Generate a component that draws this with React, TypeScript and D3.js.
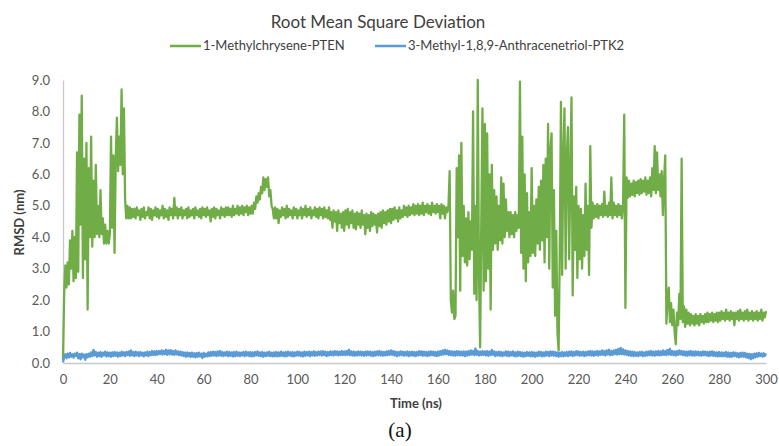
import React, { useEffect, useRef } from "react";
import * as d3 from "d3";

const W = 779;
const H = 446;
const margin = { top: 80, right: 13, bottom: 83, left: 63 };

const timeStep = 0.5; // ns between samples
const xTicks = [0, 20, 40, 60, 80, 100, 120, 140, 160, 180, 200, 220, 240, 260, 280, 300];
const yTicks = [0, 1, 2, 3, 4, 5, 6, 7, 8, 9];

const seriesNames = ["1-Methylchrysene-PTEN", "3-Methyl-1,8,9-Anthracenetriol-PTK2"];
const seriesColors = ["#70AD47", "#5B9BD5"];

// RMSD (nm), 1-Methylchrysene-PTEN, one sample per 0.5 ns (0..300), one row per 10 ns
const pten = [
  0.1,
  2.2, 3.1, 2.4, 3.2, 2.5, 3.9, 3.0, 4.2, 2.6, 4.0, 2.7, 6.7, 2.9, 7.9, 4.4, 8.5, 2.7, 6.5, 3.3, 7.0,
  1.7, 6.2, 4.0, 7.2, 3.7, 5.8, 4.0, 6.3, 4.1, 5.0, 4.0, 5.5, 4.1, 4.6, 3.8, 4.4, 3.8, 4.2, 3.8, 4.1,
  7.2, 4.3, 6.6, 3.5, 6.5, 7.8, 6.1, 7.2, 6.3, 8.7, 6.0, 8.1, 5.2, 4.6, 5.0, 4.6, 4.95, 4.6, 4.9, 4.65,
  4.9, 4.6, 4.95, 4.7, 4.85, 4.55, 4.9, 4.65, 4.95, 4.6, 4.8, 4.7, 4.95, 4.6, 4.9, 4.55, 4.85, 4.7, 4.95, 4.65,
  4.9, 4.6, 4.85, 4.7, 5.0, 4.6, 4.9, 4.65, 4.85, 4.55, 4.95, 4.7, 4.9, 4.6, 5.25, 4.7, 4.95, 4.6, 4.9, 4.7,
  4.95, 4.6, 4.85, 4.7, 4.9, 4.6, 4.95, 4.65, 4.85, 4.7, 4.9, 4.6, 4.95, 4.7, 4.85, 4.65, 4.9, 4.6, 4.95, 4.7,
  4.9, 4.65, 4.95, 4.7, 4.85, 4.5, 4.9, 4.65, 4.95, 4.6, 4.9, 4.7, 4.85, 4.6, 4.95, 4.7, 4.9, 4.65, 4.95, 4.7,
  4.95, 4.7, 4.9, 4.65, 5.0, 4.7, 4.9, 4.75, 5.0, 4.7, 4.95, 4.75, 5.0, 4.7, 4.95, 4.8, 5.0, 4.7, 4.95, 4.75,
  5.0, 4.75, 5.1, 4.9, 5.3, 5.1, 5.4, 5.2, 5.6, 5.4, 5.9, 5.5, 5.85, 5.6, 5.9, 5.3, 5.5, 5.0, 4.9, 4.6,
  4.95, 4.6, 4.9, 4.45, 4.85, 4.65, 4.95, 4.7, 4.9, 4.6, 5.0, 4.65, 4.9, 4.7, 4.85, 4.6, 4.95, 4.7, 4.9, 4.6,
  4.85, 4.7, 4.95, 4.6, 4.9, 4.7, 5.0, 4.65, 4.9, 4.7, 4.95, 4.6, 4.85, 4.7, 4.95, 4.65, 4.9, 4.6, 4.95, 4.7,
  4.9, 4.6, 4.95, 4.65, 4.85, 4.6, 4.95, 4.55, 4.8, 4.3, 4.85, 4.5, 4.8, 4.2, 4.85, 4.45, 4.75, 4.3, 4.8, 4.2,
  4.85, 4.4, 4.9, 4.3, 4.8, 4.45, 4.85, 4.3, 4.75, 4.25, 4.8, 4.4, 4.75, 4.3, 4.85, 4.4, 4.7, 4.1, 4.75, 4.3,
  4.7, 4.2, 4.8, 4.35, 4.75, 4.4, 4.7, 4.15, 4.75, 4.35, 4.8, 4.3, 4.85, 4.45, 4.8, 4.4, 4.85, 4.5, 4.9, 4.45,
  4.9, 4.55, 4.95, 4.6, 4.85, 4.5, 4.95, 4.6, 4.85, 4.65, 5.0, 4.7, 4.95, 4.65, 5.0, 4.7, 4.95, 4.75, 5.05, 4.7,
  5.0, 4.75, 5.05, 4.7, 5.0, 4.75, 5.1, 4.7, 5.0, 4.8, 5.05, 4.75, 5.0, 4.7, 5.1, 4.8, 5.0, 4.75, 5.05, 4.8,
  5.0, 4.6, 5.05, 4.75, 5.0, 4.6, 4.95, 4.8, 5.0, 6.1, 2.0, 1.6, 2.3, 1.4, 1.5, 6.2, 4.0, 6.6, 2.3, 7.0,
  3.4, 5.0, 3.2, 4.6, 3.1, 4.8, 3.3, 4.5, 3.6, 8.0, 2.2, 5.0, 2.0, 9.0, 3.0, 0.5, 4.5, 8.1, 2.3, 7.6,
  2.6, 7.3, 3.0, 6.0, 1.7, 6.3, 3.6, 5.5, 3.8, 5.3, 3.6, 5.0, 3.9, 5.9, 3.8, 5.7, 4.0, 5.2, 4.2, 4.8,
  4.0, 4.8, 4.1, 4.7, 4.0, 4.8, 4.2, 4.7, 4.3, 8.95, 3.5, 7.2, 3.0, 6.0, 2.6, 5.4, 3.2, 4.8, 3.4, 6.2,
  3.5, 5.0, 3.4, 5.2, 3.8, 5.6, 3.6, 5.8, 3.9, 6.3, 3.2, 6.5, 4.0, 7.6, 3.0, 6.8, 7.3, 2.4, 5.5, 1.5,
  4.2, 1.0, 0.4, 3.6, 8.3, 2.8, 6.5, 8.1, 3.0, 6.6, 7.5, 3.3, 6.0, 8.45, 2.15, 5.3, 3.6, 5.6, 2.7, 5.0,
  3.3, 4.9, 3.0, 4.7, 3.4, 5.7, 3.6, 5.0, 2.8, 6.9, 4.3, 5.1, 4.6, 5.0, 4.65, 5.05, 4.6, 5.0, 4.7, 5.05,
  4.65, 5.45, 4.7, 5.0, 4.65, 5.1, 4.7, 5.9, 4.6, 5.1, 4.7, 5.0, 4.65, 5.05, 4.7, 5.0, 4.6, 5.0, 7.9, 1.75,
  5.9, 5.25, 5.8, 5.3, 5.7, 5.35, 5.8, 5.3, 5.75, 5.4, 5.8, 5.35, 5.85, 5.4, 5.8, 5.45, 5.9, 5.35, 5.8, 5.4,
  5.9, 5.3, 6.2, 5.5, 6.9, 5.4, 6.7, 5.5, 6.0, 5.3, 6.1, 4.7, 5.8, 6.6, 1.25, 2.0, 2.4, 1.3, 1.9, 1.2,
  1.7, 1.0, 0.6, 1.6, 1.2, 2.2, 1.4, 6.5, 1.3, 1.8, 1.15, 1.7, 1.25, 1.6, 1.2, 1.55, 1.25, 1.5, 1.2, 1.55,
  1.25, 1.5, 1.2, 1.55, 1.3, 1.5, 1.25, 1.55, 1.3, 1.6, 1.3, 1.55, 1.35, 1.6, 1.3, 1.55, 1.35, 1.6, 1.3, 1.6,
  1.35, 1.65, 1.4, 1.6, 1.35, 1.7, 1.4, 1.6, 1.35, 1.65, 1.4, 1.6, 1.2, 1.6, 1.4, 1.65, 1.35, 1.7, 1.4, 1.6,
  1.35, 1.65, 1.4, 1.7, 1.35, 1.6, 1.4, 1.65, 1.35, 1.6, 1.4, 1.65, 1.35, 1.6, 1.4, 1.7, 1.35, 1.6, 1.45, 1.65,
];

// RMSD (nm), 3-Methyl-1,8,9-Anthracenetriol-PTK2, one sample per 0.5 ns (0..300), one row per 10 ns
const ptk2 = [
  0.02,
  0.2, 0.28, 0.15, 0.3, 0.18, 0.32, 0.2, 0.28, 0.17, 0.3, 0.22, 0.33, 0.15, 0.28, 0.12, 0.3, 0.18, 0.27, 0.1, 0.28,
  0.18, 0.3, 0.2, 0.34, 0.22, 0.42, 0.24, 0.35, 0.2, 0.33, 0.22, 0.35, 0.2, 0.33, 0.24, 0.36, 0.21, 0.34, 0.22, 0.33,
  0.2, 0.34, 0.22, 0.35, 0.23, 0.34, 0.2, 0.33, 0.22, 0.36, 0.24, 0.34, 0.22, 0.35, 0.25, 0.37, 0.23, 0.4, 0.24, 0.35,
  0.22, 0.36, 0.24, 0.34, 0.22, 0.35, 0.24, 0.33, 0.21, 0.34, 0.24, 0.36, 0.22, 0.35, 0.25, 0.38, 0.26, 0.37, 0.25, 0.38,
  0.27, 0.38, 0.28, 0.4, 0.27, 0.39, 0.28, 0.42, 0.26, 0.4, 0.28, 0.41, 0.27, 0.38, 0.26, 0.4, 0.27, 0.37, 0.25, 0.36,
  0.24, 0.35, 0.22, 0.33, 0.2, 0.34, 0.21, 0.32, 0.19, 0.33, 0.2, 0.31, 0.18, 0.32, 0.2, 0.33, 0.21, 0.3, 0.16, 0.32,
  0.2, 0.3, 0.21, 0.34, 0.22, 0.35, 0.23, 0.36, 0.24, 0.35, 0.22, 0.37, 0.24, 0.38, 0.23, 0.35, 0.22, 0.34, 0.24, 0.36,
  0.22, 0.35, 0.23, 0.34, 0.21, 0.35, 0.22, 0.36, 0.23, 0.34, 0.22, 0.33, 0.24, 0.35, 0.22, 0.36, 0.24, 0.34, 0.22, 0.35,
  0.21, 0.34, 0.22, 0.35, 0.24, 0.37, 0.23, 0.34, 0.22, 0.35, 0.2, 0.33, 0.22, 0.34, 0.23, 0.36, 0.22, 0.33, 0.21, 0.34,
  0.22, 0.35, 0.21, 0.34, 0.22, 0.36, 0.23, 0.34, 0.21, 0.35, 0.22, 0.36, 0.24, 0.34, 0.22, 0.35, 0.21, 0.34, 0.23, 0.36,
  0.24, 0.35, 0.22, 0.34, 0.21, 0.36, 0.23, 0.35, 0.24, 0.36, 0.22, 0.35, 0.24, 0.37, 0.23, 0.35, 0.24, 0.36, 0.25, 0.37,
  0.24, 0.38, 0.25, 0.36, 0.22, 0.35, 0.24, 0.37, 0.25, 0.36, 0.24, 0.38, 0.26, 0.37, 0.24, 0.36, 0.25, 0.38, 0.26, 0.37,
  0.25, 0.38, 0.26, 0.42, 0.25, 0.37, 0.24, 0.36, 0.23, 0.35, 0.24, 0.37, 0.25, 0.36, 0.24, 0.35, 0.23, 0.36, 0.24, 0.37,
  0.25, 0.36, 0.23, 0.35, 0.22, 0.36, 0.24, 0.37, 0.25, 0.38, 0.24, 0.36, 0.23, 0.35, 0.24, 0.37, 0.25, 0.38, 0.26, 0.4,
  0.26, 0.38, 0.24, 0.36, 0.22, 0.35, 0.24, 0.37, 0.25, 0.36, 0.23, 0.35, 0.24, 0.37, 0.22, 0.35, 0.24, 0.36, 0.23, 0.35,
  0.22, 0.35, 0.24, 0.38, 0.25, 0.37, 0.23, 0.36, 0.24, 0.35, 0.22, 0.36, 0.24, 0.37, 0.25, 0.36, 0.23, 0.35, 0.22, 0.36,
  0.24, 0.38, 0.26, 0.4, 0.27, 0.42, 0.28, 0.4, 0.26, 0.38, 0.25, 0.37, 0.24, 0.36, 0.23, 0.38, 0.25, 0.37, 0.24, 0.36,
  0.24, 0.37, 0.22, 0.36, 0.24, 0.38, 0.25, 0.4, 0.27, 0.38, 0.25, 0.46, 0.26, 0.38, 0.24, 0.36, 0.25, 0.38, 0.26, 0.37,
  0.24, 0.38, 0.23, 0.36, 0.25, 0.42, 0.26, 0.37, 0.22, 0.35, 0.24, 0.36, 0.23, 0.35, 0.22, 0.34, 0.24, 0.37, 0.23, 0.36,
  0.22, 0.35, 0.24, 0.37, 0.22, 0.34, 0.21, 0.36, 0.23, 0.35, 0.22, 0.34, 0.2, 0.33, 0.22, 0.35, 0.23, 0.34, 0.21, 0.35,
  0.22, 0.34, 0.2, 0.33, 0.22, 0.36, 0.23, 0.35, 0.21, 0.34, 0.22, 0.36, 0.24, 0.35, 0.22, 0.37, 0.24, 0.36, 0.23, 0.35,
  0.22, 0.34, 0.2, 0.33, 0.22, 0.35, 0.21, 0.34, 0.23, 0.35, 0.22, 0.36, 0.24, 0.37, 0.22, 0.35, 0.24, 0.38, 0.25, 0.37,
  0.23, 0.35, 0.24, 0.36, 0.22, 0.35, 0.24, 0.37, 0.25, 0.38, 0.24, 0.37, 0.23, 0.36, 0.25, 0.38, 0.24, 0.37, 0.26, 0.4,
  0.26, 0.38, 0.24, 0.4, 0.27, 0.42, 0.25, 0.38, 0.26, 0.4, 0.28, 0.42, 0.27, 0.45, 0.28, 0.48, 0.28, 0.43, 0.27, 0.4,
  0.26, 0.38, 0.24, 0.37, 0.23, 0.36, 0.22, 0.35, 0.23, 0.34, 0.22, 0.35, 0.24, 0.36, 0.22, 0.34, 0.23, 0.36, 0.24, 0.37,
  0.25, 0.38, 0.24, 0.36, 0.23, 0.37, 0.25, 0.38, 0.24, 0.37, 0.25, 0.4, 0.26, 0.38, 0.25, 0.42, 0.27, 0.45, 0.26, 0.38,
  0.25, 0.37, 0.24, 0.38, 0.26, 0.4, 0.27, 0.38, 0.25, 0.37, 0.24, 0.36, 0.23, 0.37, 0.25, 0.38, 0.24, 0.36, 0.23, 0.37,
  0.25, 0.36, 0.24, 0.35, 0.23, 0.37, 0.25, 0.36, 0.24, 0.35, 0.22, 0.36, 0.24, 0.37, 0.23, 0.35, 0.22, 0.34, 0.21, 0.35,
  0.22, 0.34, 0.21, 0.33, 0.22, 0.35, 0.2, 0.33, 0.19, 0.32, 0.2, 0.34, 0.22, 0.33, 0.2, 0.31, 0.18, 0.32, 0.2, 0.33,
  0.2, 0.32, 0.18, 0.3, 0.16, 0.29, 0.12, 0.28, 0.15, 0.3, 0.18, 0.31, 0.2, 0.32, 0.22, 0.3, 0.2, 0.31, 0.22, 0.3,
];

const FONT = "Lato, 'Open Sans', sans-serif";

export default function App() {
  const ref = useRef<SVGSVGElement>(null);

  useEffect(() => {
    const svg = d3.select(ref.current);
    svg.selectAll("*").remove();

    const x = d3.scaleLinear().domain([0, 300]).range([margin.left, W - margin.right]);
    const y = d3.scaleLinear().domain([0, 9]).range([H - margin.bottom, margin.top]);

    // title
    svg
      .append("text")
      .attr("x", 378)
      .attr("y", 28)
      .attr("text-anchor", "middle")
      .style("font", `17px ${FONT}`)
      .style("fill", "#404040")
      .text("Root Mean Square Deviation");

    // legend
    const legendX = [170, 375];
    seriesNames.forEach((name, i) => {
      const g = svg.append("g").attr("transform", `translate(${legendX[i]},50)`);
      g.append("line")
        .attr("x1", 0)
        .attr("x2", 31)
        .attr("y1", -4)
        .attr("y2", -4)
        .attr("stroke", seriesColors[i])
        .attr("stroke-width", 2.5);
      g.append("text")
        .attr("x", 33)
        .attr("y", 0)
        .style("font", `13px ${FONT}`)
        .style("fill", "#404040")
        .text(name);
    });

    // axes
    const xAxis = svg
      .append("g")
      .attr("transform", `translate(0,${y(0)})`)
      .call(d3.axisBottom(x).tickValues(xTicks).tickSize(0).tickPadding(12));
    const yAxis = svg
      .append("g")
      .attr("transform", `translate(${x(0)},0)`)
      .call(
        d3
          .axisLeft(y)
          .tickValues(yTicks)
          .tickSize(0)
          .tickPadding(13)
          .tickFormat(d3.format(".1f"))
      );
    [xAxis, yAxis].forEach((a) => {
      a.select(".domain").attr("stroke", "#c8c8c8").attr("stroke-width", 1.3);
      a.selectAll("text")
        .style("font", `13px ${FONT}`)
        .style("fill", "#595959");
    });

    // series
    const line = d3
      .line<number>()
      .x((_, i) => x(i * timeStep))
      .y((d) => y(d));
    const series = [pten, ptk2];
    series.forEach((s, i) => {
      svg
        .append("path")
        .datum(s)
        .attr("fill", "none")
        .attr("stroke", seriesColors[i])
        .attr("stroke-width", 2.3)
        .attr("stroke-linejoin", "round")
        .attr("d", line);
    });

    // axis titles
    svg
      .append("text")
      .attr("x", 416)
      .attr("y", 408)
      .attr("text-anchor", "middle")
      .style("font", `bold 13px ${FONT}`)
      .style("fill", "#404040")
      .text("Time (ns)");
    svg
      .append("text")
      .attr("transform", `translate(24,${(y(0) + y(9)) / 2 + 1}) rotate(-90)`)
      .attr("text-anchor", "middle")
      .style("font", `bold 13px ${FONT}`)
      .style("fill", "#404040")
      .text("RMSD (nm)");

    // caption
    svg
      .append("text")
      .attr("x", 400)
      .attr("y", 437)
      .attr("text-anchor", "middle")
      .style("font", "21px 'Liberation Serif', 'DejaVu Serif', serif")
      .style("fill", "#111")
      .text("(a)");
  }, []);

  return (
    <svg
      ref={ref}
      width={W}
      height={H}
      style={{ position: "absolute", left: 0, top: 0, background: "#fff" }}
    />
  );
}
